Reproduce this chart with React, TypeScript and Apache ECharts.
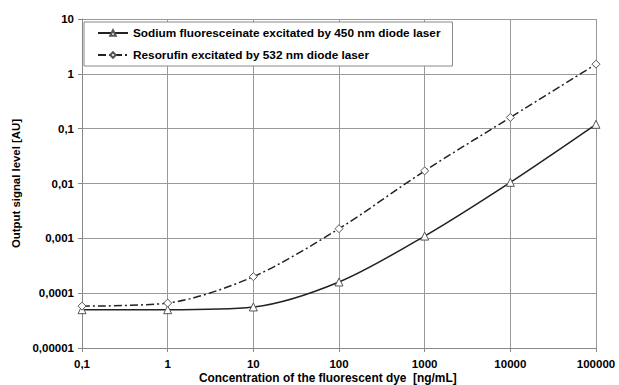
import React, { useEffect, useRef } from "react";
import * as echarts from "echarts";

const concentrations = [0.1, 1, 10, 100, 1000, 10000, 100000];
const sodiumValues = [0.00005, 0.00005, 0.000056, 0.00016, 0.0011, 0.0105, 0.12];
const resorufinValues = [0.000058, 0.000066, 0.0002, 0.0015, 0.017, 0.16, 1.5];
const xTickLabels = ["0,1", "1", "10", "100", "1000", "10000", "100000"];
const yTickLabels = ["0,00001", "0,0001", "0,001", "0,01", "0,1", "1", "10"];
const seriesNames = [
  "Sodium fluoresceinate excitated by 450 nm diode laser",
  "Resorufin excitated by 532 nm diode laser",
];
const xTitle = "Concentration of the fluorescent dye  [ng/mL]";
const yTitle = "Output signal level [AU]";

const FONT = "'Liberation Sans', Arial, sans-serif";

export default function App() {
  const ref = useRef<HTMLDivElement>(null);
  useEffect(() => {
    if (!ref.current) return;
    const chart = echarts.init(ref.current, null, { renderer: "svg" });
    const xLabel = (v: number) => xTickLabels[Math.round(Math.log10(v)) + 1] ?? "";
    const yLabel = (v: number) => yTickLabels[Math.round(Math.log10(v)) + 5] ?? "";
    const lineColor = "#222";
    chart.setOption({
      animation: false,
      backgroundColor: "#fff",
      textStyle: { fontFamily: FONT },
      grid: { left: 82, right: 23, top: 19, bottom: 37, containLabel: false },
      legend: {
        orient: "vertical",
        left: 84,
        top: 22,
        backgroundColor: "#fff",
        borderColor: "#888",
        borderWidth: 1,
        borderRadius: 0,
        padding: [5, 12, 5, 13],
        itemWidth: 30,
        itemHeight: 7,
        itemGap: 10,
        textStyle: { fontFamily: FONT, fontWeight: "bold", fontSize: 11.8, color: "#000" },
        data: seriesNames,
      },
      graphic: [
        {
          type: "text",
          left: 329 - 130,
          top: 372,
          style: { text: xTitle, fontFamily: FONT, fontWeight: "bold", fontSize: 11.9, fill: "#000" },
        },
      ],
      xAxis: {
        type: "log",
        logBase: 10,
        min: 0.1,
        max: 100000,
        axisLine: { show: true, lineStyle: { color: "#888", width: 1 } },
        axisTick: { show: true, length: 4, inside: false, lineStyle: { color: "#888" } },
        axisLabel: { formatter: xLabel, fontFamily: FONT, fontWeight: "bold", fontSize: 11.5, color: "#000", margin: 10 },
        splitLine: { show: true, lineStyle: { color: "#999", width: 1 } },
        minorTick: { show: false },
      },
      yAxis: {
        type: "log",
        logBase: 10,
        min: 0.00001,
        max: 10,
        name: yTitle,
        nameLocation: "middle",
        nameGap: 61,
        nameRotate: 90,
        nameTextStyle: { fontFamily: FONT, fontWeight: "bold", fontSize: 11.4, color: "#000" },
        axisLine: { show: true, lineStyle: { color: "#888", width: 1 } },
        axisTick: { show: true, length: 4, inside: false, lineStyle: { color: "#888" } },
        axisLabel: { formatter: yLabel, fontFamily: FONT, fontWeight: "bold", fontSize: 11.5, color: "#000", margin: 8 },
        splitLine: { show: true, lineStyle: { color: "#999", width: 1 } },
      },
      series: [
        {
          name: seriesNames[0],
          type: "line",
          data: concentrations.map((c, i) => [c, sodiumValues[i]]),
          smooth: 0.3,
          symbol: "triangle",
          symbolSize: 8,
          showAllSymbol: true,
          lineStyle: { color: lineColor, width: 1.5, type: "solid" },
          itemStyle: { color: "#fff", borderColor: "#555", borderWidth: 1 },
          color: lineColor,
        },
        {
          name: seriesNames[1],
          type: "line",
          data: concentrations.map((c, i) => [c, resorufinValues[i]]),
          smooth: 0.3,
          symbol: "diamond",
          symbolSize: 8,
          showAllSymbol: true,
          lineStyle: { color: lineColor, width: 1.5, type: [8, 3, 2, 3] },
          itemStyle: { color: "#fff", borderColor: "#555", borderWidth: 1 },
          color: lineColor,
        },
      ],
    });
    return () => chart.dispose();
  }, []);
  return <div ref={ref} style={{ width: 619, height: 385, position: "absolute", left: 0, top: 0 }} />;
}
